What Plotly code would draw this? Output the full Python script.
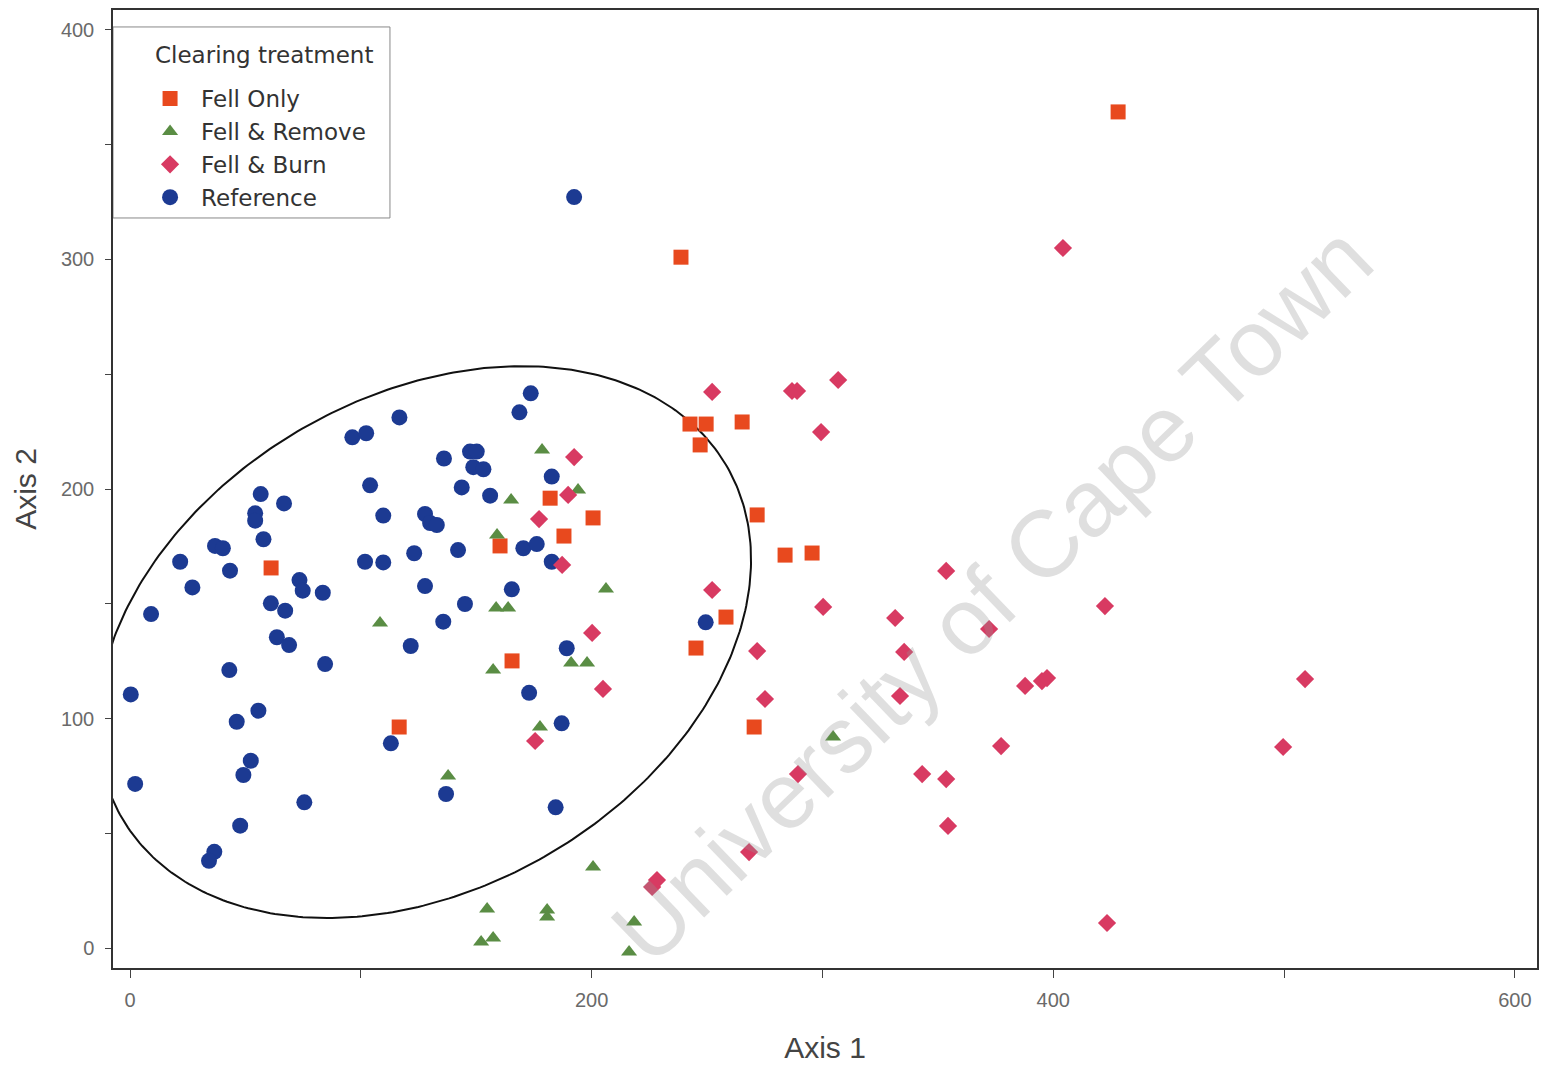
import numpy as np
import plotly.graph_objects as go

# ---------------- data ----------------
fell_only_x = [428.1, 238.7, 242.6, 249.6, 265.2, 247.0, 271.7, 283.8, 295.5, 182.0,
               200.6, 188.0, 160.3, 61.1, 258.2, 245.2, 165.5, 116.6, 270.4]
fell_only_y = [364.3, 301.0, 228.3, 228.3, 229.2, 219.2, 188.7, 171.2, 172.1, 196.0,
               187.4, 179.5, 175.2, 165.6, 144.2, 130.7, 125.1, 96.3, 96.3]

fell_remove_x = [178.5, 194.1, 165.1, 159.0, 206.2, 158.6, 163.8, 191.1, 198.0, 157.3,
                 108.3, 177.6, 137.8, 304.6, 200.6, 154.7, 180.7, 180.7, 218.4, 152.1,
                 157.3, 216.2]
fell_remove_y = [217.0, 199.6, 195.2, 180.0, 156.4, 148.1, 148.1, 124.2, 124.2, 121.1,
                 141.6, 96.3, 74.9, 91.9, 35.3, 17.0, 16.6, 13.5, 11.3, 2.6,
                 4.4, -1.7]

fell_burn_x = [404.2, 306.8, 286.8, 289.0, 252.2, 299.4, 192.4, 189.8, 177.2, 187.2,
               252.2, 200.2, 204.9, 175.5, 271.7, 275.1, 300.3, 331.5, 335.4, 372.2,
               422.4, 353.6, 333.6, 387.8, 395.1, 397.3, 509.1, 377.4, 499.6, 289.4,
               343.2, 353.6, 354.4, 268.2, 226.2, 228.3, 423.3]
fell_burn_y = [305.0, 247.5, 242.7, 242.7, 242.3, 224.8, 213.9, 197.4, 186.9, 166.9,
               156.0, 137.3, 112.9, 90.2, 129.4, 108.5, 148.6, 143.8, 129.0, 139.0,
               149.0, 164.3, 109.8, 114.2, 116.3, 117.6, 117.2, 88.0, 87.6, 75.8,
               75.8, 73.6, 53.2, 41.8, 26.6, 29.6, 10.9]

reference_x = [192.4, 173.6, 168.7, 116.7, 96.3, 102.3, 136.0, 147.3, 150.2, 148.7,
               153.1, 104.0, 143.7, 156.0, 182.7, 56.6, 66.7, 54.2, 54.2, 109.7,
               127.8, 130.0, 132.9, 57.8, 36.8, 40.2, 123.1, 142.1, 170.4, 176.2,
               182.7, 21.7, 101.8, 109.7, 43.3, 27.0, 73.4, 74.8, 83.5, 127.8,
               165.4, 145.1, 61.0, 67.2, 9.1, 135.7, 63.6, 68.9, 121.6, 84.5,
               189.2, 249.4, 43.0, 172.9, 0.3, 55.6, 46.2, 187.0, 113.0, 52.3,
               49.1, 2.2, 136.9, 75.5, 184.4, 47.7, 36.5, 34.2]
reference_y = [327.2, 241.7, 233.4, 231.2, 222.5, 224.3, 213.3, 216.3, 216.3, 209.5,
               208.6, 201.6, 200.7, 197.1, 205.4, 197.8, 193.7, 189.4, 186.2, 188.4,
               189.1, 185.2, 184.3, 178.1, 175.2, 174.2, 172.0, 173.4, 174.2, 176.0,
               168.3, 168.3, 168.3, 168.0, 164.4, 157.1, 160.3, 155.7, 154.8, 157.7,
               156.3, 149.9, 150.2, 147.0, 145.5, 142.2, 135.4, 132.0, 131.6, 123.7,
               130.6, 141.9, 121.1, 111.2, 110.5, 103.4, 98.6, 97.9, 89.2, 81.6,
               75.4, 71.5, 67.1, 63.5, 61.3, 53.3, 41.9, 38.0]

# ellipse (centre, semi-axes, rotation in degrees)
ell_cx, ell_cy = 127.5, 133.3
ell_a, ell_b = 151.8, 107.0
ell_theta = 30.6

x_ticks = [0, 200, 400, 600]
y_ticks = [0, 100, 200, 300, 400]

# ---------------- figure ----------------
fig = go.Figure()

t = np.linspace(0, 2 * np.pi, 400)
th = np.deg2rad(ell_theta)
ex = ell_cx + ell_a * np.cos(t) * np.cos(th) - ell_b * np.sin(t) * np.sin(th)
ey = ell_cy + ell_a * np.cos(t) * np.sin(th) + ell_b * np.sin(t) * np.cos(th)
fig.add_trace(go.Scatter(x=ex, y=ey, mode="lines", line=dict(color="#111", width=2),
                         showlegend=False, hoverinfo="skip"))

fig.add_trace(go.Scatter(x=reference_x, y=reference_y, mode="markers", name="Reference",
                         legendrank=4,
                         marker=dict(symbol="circle", size=16, color="#1c3a92")))
fig.add_trace(go.Scatter(x=fell_only_x, y=fell_only_y, mode="markers", name="Fell Only",
                         legendrank=1,
                         marker=dict(symbol="square", size=15, color="#e8491e")))
fig.add_trace(go.Scatter(x=fell_remove_x, y=fell_remove_y, mode="markers", name="Fell & Remove",
                         legendrank=2,
                         marker=dict(symbol="triangle-up", size=14, color="#5a8d44")))
fig.add_trace(go.Scatter(x=fell_burn_x, y=fell_burn_y, mode="markers", name="Fell & Burn",
                         legendrank=3,
                         marker=dict(symbol="diamond", size=14, color="#d83a62")))

# watermark
fig.add_annotation(text="University of Cape Town", xref="paper", yref="paper",
                   x=0.617, y=0.39, showarrow=False, textangle=-44,
                   font=dict(family="Liberation Sans, Arial", size=94,
                             color="rgba(150,150,150,0.3)"))

# legend frame and title
fig.add_shape(type="rect", xref="paper", yref="paper", x0=0, x1=0.1945, y0=0.7829, y1=0.9823,
              line=dict(color="#888", width=1), fillcolor="white", layer="below")
fig.add_annotation(text="Clearing treatment", xref="paper", yref="paper",
                   x=0.0281, y=0.953, xanchor="left", yanchor="middle", showarrow=False,
                   font=dict(family="DejaVu Sans", size=23, color="#333"))

axis_common = dict(showline=True, linecolor="#333", linewidth=1.5, mirror=True,
                   showgrid=False, zeroline=False, ticks="outside",
                   tickcolor="#444", tickfont=dict(size=20, color="#6a6a6a"))

fig.update_xaxes(range=[-7.4, 609.6], tickvals=x_ticks, ticklabelstandoff=5, ticklen=8,
                 minor=dict(ticks="outside", dtick=100, ticklen=8, tickcolor="#444"),
                 title=dict(text="Axis 1", font=dict(size=30, color="#444"), standoff=27),
                 **axis_common)
fig.update_yaxes(range=[-8.7, 408.7], tickvals=y_ticks, ticklabelstandoff=7, ticklen=6,
                 minor=dict(ticks="outside", dtick=50, ticklen=6, tickcolor="#444"),
                 title=dict(text="Axis 2", font=dict(size=30, color="#444"), standoff=15),
                 **axis_common)

fig.update_layout(
    width=1541, height=1065,
    margin=dict(l=113, r=4, t=10, b=97, autoexpand=False),
    paper_bgcolor="white", plot_bgcolor="white",
    font=dict(family="Liberation Sans, Arial, sans-serif"),
    legend=dict(x=0.0183, y=0.93, xanchor="left", yanchor="top",
                bgcolor="rgba(0,0,0,0)", borderwidth=0, itemwidth=52,
                font=dict(family="DejaVu Sans", size=23, color="#333")),
)

fig.write_html("out.html", config={"displayModeBar": False},
               post_script="document.body.style.margin='0';document.body.style.overflow='hidden';")
